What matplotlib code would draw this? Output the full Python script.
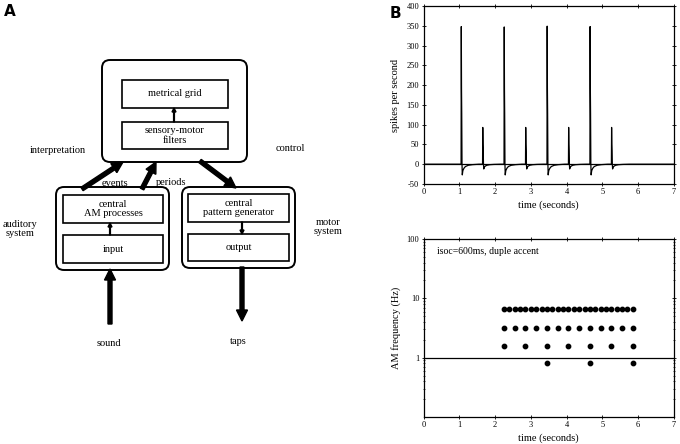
"""Two-panel figure: model diagram (A) and simulated responses (B)."""

import matplotlib
matplotlib.use("Agg")
import matplotlib.pyplot as plt
from matplotlib.patches import FancyBboxPatch, Rectangle, FancyArrow
from matplotlib.ticker import LogLocator, NullFormatter, FixedLocator

plt.rcParams["font.family"] = ["Liberation Serif", "DejaVu Serif"]
plt.rcParams["axes.unicode_minus"] = False

# ---- panel B, top: spike-rate response ----
spike_onsets = [1.05, 1.65, 2.25, 2.85, 3.45, 4.05, 4.65, 5.25]
spike_peaks = [348, 93, 347, 93, 349, 93, 348, 93]
spike_troughs = [-27, -12, -27, -12, -27, -12, -27, -12]
# shared spike profile: time offsets, fraction of peak, fraction of trough
shape_dt = [0.0, 0.006, 0.012, 0.018, 0.026, 0.034, 0.05, 0.08, 0.12, 0.2, 0.32, 0.5]
shape_peak = [0, 1.0, 0.55, 0.37, 0, 0, 0, 0, 0, 0, 0, 0]
shape_trough = [0, 0, 0, 0, 0, 1.0, 0.6, 0.38, 0.22, 0.1, 0.04, 0]

# ---- panel B, bottom: AM frequency events ----
times_150 = [2.25, 2.40, 2.55, 2.70, 2.85, 3.00, 3.15, 3.30, 3.45, 3.60, 3.75, 3.90, 4.05,
             4.20, 4.35, 4.50, 4.65, 4.80, 4.95, 5.10, 5.25, 5.40, 5.55, 5.70, 5.85]
times_300 = [2.25, 2.55, 2.85, 3.15, 3.45, 3.75, 4.05, 4.35, 4.65, 4.95, 5.25, 5.55, 5.85]
times_600 = [2.25, 2.85, 3.45, 4.05, 4.65, 5.25, 5.85]
times_1200 = [3.45, 4.65, 5.85]
freq_rows = [6.5, 3.2, 1.6, 0.8]
row_times = [times_150, times_300, times_600, times_1200]

# ---- panel A: diagram boxes (pixel layout) ----
outer_boxes = [(102, 60, 247, 162), (56, 187, 169, 270), (182, 187, 295, 268)]
inner_boxes = [
    ((122, 80, 228, 108), "metrical grid"),
    ((122, 122, 228, 149), "sensory-motor\nfilters"),
    ((63, 195, 163, 223), "central\nAM processes"),
    ((63, 235, 163, 263), "input"),
    ((188, 194, 289, 222), "central\npattern generator"),
    ((188, 234, 289, 261), "output"),
]
small_arrows = [((174, 122), (174, 108)), ((110, 235), (110, 223)), ((242, 222), (242, 234))]
thick_arrows = [((82, 189), (123, 162)), ((142, 189), (156, 162)), ((200, 161), (236, 188)),
                ((110, 324), (110, 269)), ((242, 267), (242, 321))]
labels = [
    ((58, 150), "interpretation"), ((290, 148), "control"), ((115, 183), "events"),
    ((171, 182), "periods"), ((20, 229), "auditory\nsystem"), ((328, 227), "motor\nsystem"),
    ((109, 343), "sound"), ((238, 341), "taps"),
]

fig = plt.figure(figsize=(6.8, 4.44), dpi=100)

# diagram canvas in pixel coordinates
dg = fig.add_axes([0, 0, 1, 1])
dg.set_xlim(0, 680)
dg.set_ylim(444, 0)
dg.axis("off")

for x0, y0, x1, y1 in outer_boxes:
    dg.add_patch(FancyBboxPatch((x0 + 8, y0 + 8), x1 - x0 - 16, y1 - y0 - 16,
                                boxstyle="round,pad=8", fc="none", ec="black", lw=1.4))
for (x0, y0, x1, y1), txt in inner_boxes:
    dg.add_patch(Rectangle((x0, y0), x1 - x0, y1 - y0, fc="none", ec="black", lw=1.2))
    dg.text((x0 + x1) / 2, (y0 + y1) / 2, txt, ha="center", va="center",
            fontsize=7.5, linespacing=1.05)
for (xa, ya), (xb, yb) in small_arrows:
    dg.add_patch(FancyArrow(xa, ya, xb - xa, yb - ya, width=0.8, head_width=4,
                            head_length=4, length_includes_head=True, color="black"))
for (xa, ya), (xb, yb) in thick_arrows:
    dg.add_patch(FancyArrow(xa, ya, xb - xa, yb - ya, width=4, head_width=11,
                            head_length=11, length_includes_head=True, color="black"))
for (x, y), txt in labels:
    dg.text(x, y, txt, ha="center", va="center", fontsize=7.5, linespacing=1.05)

dg.text(10, 12, "A", ha="center", va="center", fontsize=11, fontweight="bold",
        family="DejaVu Sans")
dg.text(395, 13, "B", ha="center", va="center", fontsize=11, fontweight="bold",
        family="DejaVu Sans")

# top plot
ax1 = fig.add_axes([0.6228, 0.5856, 0.3684, 0.4009])
xs, ys = [0.0], [0.0]
for t0, pk, tr in zip(spike_onsets, spike_peaks, spike_troughs):
    for dt, fp, ft in zip(shape_dt, shape_peak, shape_trough):
        xs.append(t0 + dt)
        ys.append(pk * fp + tr * ft)
xs.append(7.0)
ys.append(0.0)
ax1.plot(xs, ys, color="black", lw=0.9)
ax1.axhline(0, color="black", lw=0.9)
ax1.set_xlim(0, 7)
ax1.set_ylim(-50, 400)
ax1.set_xticks(range(8))
ax1.set_yticks(range(-50, 401, 50))
ax1.set_xlabel("time (seconds)", fontsize=7.5, labelpad=3)
ax1.set_ylabel("spikes per second", fontsize=7.5)
ax1.yaxis.set_label_coords(-0.094, 0.5)

# bottom plot
ax2 = fig.add_axes([0.6228, 0.0608, 0.3684, 0.4009])
for f, ts in zip(freq_rows, row_times):
    ax2.scatter(ts, [f] * len(ts), s=10, color="black", zorder=3)
ax2.axhline(1, color="black", lw=0.9)
ax2.set_yscale("log")
ax2.set_xlim(0, 7)
ax2.set_ylim(0.1, 100)
ax2.set_xticks(range(8))
ax2.yaxis.set_major_locator(FixedLocator([1, 10, 100]))
ax2.set_yticklabels(["1", "10", "100"])
ax2.yaxis.set_minor_locator(LogLocator(base=10, subs=range(2, 10)))
ax2.yaxis.set_minor_formatter(NullFormatter())
ax2.text(0.054, 0.93, "isoc=600ms, duple accent", transform=ax2.transAxes,
         fontsize=7, va="center", ha="left")
ax2.set_xlabel("time (seconds)", fontsize=7.5, labelpad=3)
ax2.set_ylabel("AM frequency (Hz)", fontsize=7.5)
ax2.yaxis.set_label_coords(-0.09, 0.5)

for ax in (ax1, ax2):
    ax.tick_params(which="both", direction="inout", top=True, right=True,
                   labelsize=6, pad=1.5)
    ax.tick_params(which="major", length=3, width=0.6)
    ax.tick_params(which="minor", length=1.5, width=0.5)
    for sp in ax.spines.values():
        sp.set_linewidth(0.9)

fig.savefig("out.png", dpi=100)
